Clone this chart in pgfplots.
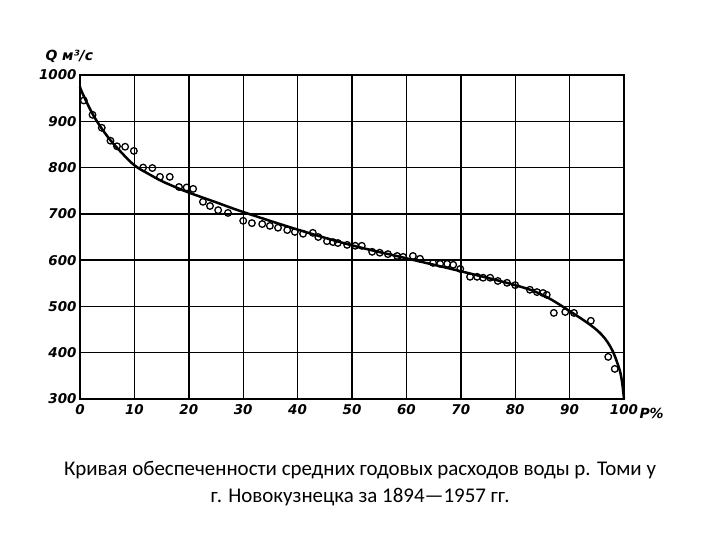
\documentclass[border=0pt]{standalone}
\usepackage{pgfplots}
\pgfplotsset{compat=1.18}
\usepackage{fontspec}
\setmainfont{Carlito}
\newfontfamily\tickfont{DejaVu Sans}

\begin{document}
\begin{tikzpicture}
\useasboundingbox (0,0) rectangle (720bp,540bp);
\begin{axis}[
    at={(80bp,141bp)}, anchor=south west,
    scale only axis,
    width=544bp, height=324bp,
    xmin=0, xmax=100,
    ymin=300, ymax=1000,
    xtick={0,10,...,100},
    ytick={300,400,...,1000},
    grid=major,
    grid style={black, line width=1.4bp},
    axis line style={black, line width=2.8bp},
    major tick length=0pt,
    ticklabel style={font=\tickfont\bfseries\itshape\fontsize{13.5}{14}\selectfont},
    /pgf/number format/assume math mode=true,
    /pgf/number format/1000 sep={},
    yticklabel style={xshift=0bp},
    xticklabel style={yshift=-1.5bp},
    clip=false,
]
% smoothed duration curve
\addplot[black, line width=2.5bp, smooth, tension=0.6] coordinates {
    (0,975) (0.4,962) (2.5,912) (5,868) (7.5,834) (10,805) (12.5,787)
    (15,771) (17.5,758) (20,746) (25,725) (30,704) (40,666) (50,632)
    (60,604) (70,576) (80,546) (85,525) (90,490) (95,449) (97.5,413)
    (99,370) (99.6,340) (100,300)
};
% annual observations
\addplot[only marks, mark=o, mark size=3.3bp,
    mark options={black, fill=white, line width=1.3bp}] coordinates {
    (0.7,945) (2.3,914) (4.0,886) (5.6,858) (6.8,846) (8.3,845) (9.9,836)
    (11.6,800) (13.3,799) (14.7,780) (16.5,780) (18.2,758) (19.6,757)
    (20.8,754) (22.6,726) (23.9,717) (25.4,708) (27.2,702) (30.0,685)
    (31.6,680) (33.5,678) (34.9,674) (36.4,670) (38.1,665) (39.5,661)
    (41.0,657) (42.8,659) (43.8,650) (45.4,641) (46.5,639) (47.4,637)
    (49.1,633) (50.6,631) (51.8,631) (53.7,618) (55.1,616) (56.6,613)
    (58.3,609) (59.4,607) (61.2,609) (62.5,603) (64.9,594) (66.2,592)
    (67.5,592) (68.6,590) (69.9,581) (71.7,564) (73.0,564) (74.1,562)
    (75.4,562) (76.8,555) (78.5,551) (80.0,546) (82.7,536) (84.0,531)
    (85.1,529) (85.8,525) (87.1,486) (89.2,488) (90.8,486) (93.9,469)
    (97.1,391) (98.3,365)
};
\node[font=\tickfont\bfseries\itshape\fontsize{14}{14}\selectfont, anchor=south west]
    at (rel axis cs:0,1) [xshift=-38bp, yshift=9bp] {Q м³/с};
\node[font=\tickfont\bfseries\itshape\fontsize{14}{14}\selectfont, anchor=west]
    at (rel axis cs:1,0) [xshift=12bp, yshift=-14bp] {P\%};
\end{axis}
\node[font=\fontsize{21}{21}\selectfont] at (360bp,70bp)
    {Кривая обеспеченности средних годовых расходов воды р. Томи у};
\node[font=\fontsize{21}{21}\selectfont] at (360bp,43bp)
    {г. Новокузнецка за 1894—1957 гг.};
\end{tikzpicture}
\end{document}
